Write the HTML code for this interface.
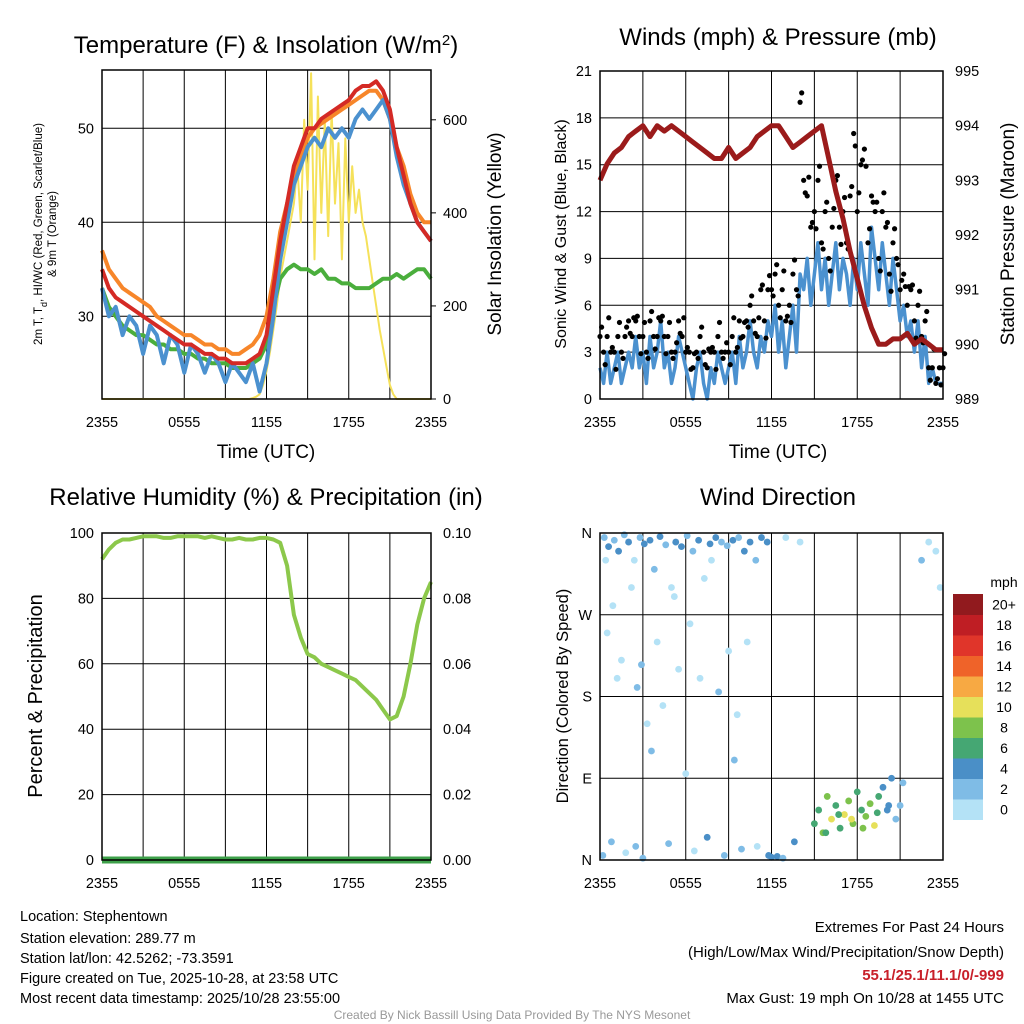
<!DOCTYPE html>
<html><head><meta charset="utf-8"><style>
body{margin:0;background:#fff;}
svg{display:block;font-family:"Liberation Sans",Arial,sans-serif;}
</style></head><body>
<svg id="fig" width="1024" height="1024" viewBox="0 0 1024 1024">
<g id="p1"></g>
<g id="p2"></g>
<g id="p3"></g>
<g id="p4"></g>
<g font-size="14.5">
<text x="20" y="921">Location: Stephentown</text>
<text x="20" y="943">Station elevation: 289.77 m</text>
<text x="20" y="963">Station lat/lon: 42.5262; -73.3591</text>
<text x="20" y="983">Figure created on Tue, 2025-10-28, at 23:58 UTC</text>
<text x="20" y="1003">Most recent data timestamp: 2025/10/28 23:55:00</text>
</g>
<g font-size="15" text-anchor="end">
<text x="1004" y="932">Extremes For Past 24 Hours</text>
<text x="1004" y="957">(High/Low/Max Wind/Precipitation/Snow Depth)</text>
<text x="1004" y="980" fill="#c8202a" font-weight="bold">55.1/25.1/11.1/0/-999</text>
<text x="1004" y="1003">Max Gust: 19 mph On 10/28 at 1455 UTC</text>
</g>
<text x="512" y="1019" font-size="12" fill="#999" text-anchor="middle">Created By Nick Bassill Using Data Provided By The NYS Mesonet</text>
</svg>
<script>
// ---- data ----
const xTickLabels=["2355","0555","1155","1755","2355"];
const tempRed=[35,33,32,31.5,31,30.5,30,29.5,29,28.5,28,27.5,27,27,26.5,26,26,25.5,25.5,25,25,25,25.5,26,28,33,38,42,46,48,50,50,51,51.5,52,52.5,53,54,54.5,54.5,55,54,52,48,45,42,40,39,38];
const tempOrange=[37,35,34,33,32.5,32,31.5,31,30,29.5,29,28.5,28,28,27.5,27,27,26.5,26.5,26,26,26.5,27,28,30,34,39,42,45,47,49,50,50.5,51,51.5,52,52.5,53,53.5,54,54,53,51,48,46,43,41,40,40];
const tempGreen=[33,31,30,29,28.5,28,28,27.5,27,27,26.5,26.5,26,26,25.5,25.5,25,25,25,24.5,24.5,24.5,25,25.5,27,31,34,35,35.5,35,35,34.5,35,34,34,33.5,33.5,33,33,33,33.5,34,34,34.5,34,34.5,35,35,34];
const tempBlue=[33,30,31,28,30,29,26,29,28,25,28,27,24,27,26,24,26,25,23,25,24,23,25,22,25,30,36,40,44,46,48,49,48,50,49,50,49,51,52,51,52,53,51,47,44,42,40,39,38];
const solar=[0,0,0,0,0,0,0,0,0,0,0,0,0,0,0,0,0,0,0,0,0,0,0,0,0,0,0,0,0,0,0,0,0,0,0,0,0,0,0,0,0,0,0,0,2,5,10,30,60,100,150,200,260,300,340,380,420,500,380,600,450,700,300,650,400,600,350,620,420,550,300,560,380,500,400,450,380,350,300,250,200,150,110,70,30,10,0,0,0,0,0,0,0,0,0,0,0];
const tempTicks=[30,40,50];
const solarTicks=[0,200,400,600];
const windBlue=[2,1,3,1,2,3,1,2,3,2,4,2,3,1,4,2,3,5,2,3,1,2,4,3,2,1,0,2,3,1,0,2,1,3,2,1,2,3,1,4,2,3,5,3,2,4,3,5,4,6,3,5,2,4,6,3,8,7,9,6,8,10,7,9,6,8,10,7,9,8,6,9,7,10,8,6,11,9,7,10,8,6,9,7,5,6,4,5,3,5,2,4,1,2,1,1,1];
const windGust=[4,3,4,3,3,4,3,4,5,4,5,4,4,3,5,4,4,5,4,4,3,3,5,4,3,3,2,3,4,3,2,3,3,4,3,3,3,4,3,5,4,5,6,5,4,7,5,7,7,8,6,7,5,6,8,7,19,14,13,11,12,14,10,12,9,11,14,11,12,10,13,17,12,15,16,10,13,12,9,12,11,8,10,9,7,8,6,7,5,6,4,5,2,2,1,2,2];
const pressure=[993,993.3,993.5,993.6,993.8,993.9,994,993.8,994,993.9,994,993.9,993.8,993.7,993.6,993.5,993.4,993.4,993.6,993.4,993.5,993.6,993.8,993.9,994,994,993.8,993.6,993.7,993.8,993.9,994,993.4,992.8,992.3,991.7,991.2,990.7,990.3,990,990,990.1,990.1,990.2,990,990.1,990,989.9,989.9];
const windTicks=[0,3,6,9,12,15,18,21];
const presTicks=[989,990,991,992,993,994,995];
const rh=[92,95,97,98,98,98.5,99,99,99,98.5,98.5,99,99,99,99,98.5,99,98.5,98,98,98.5,98,98,98.5,98.5,98,97,90,75,68,63,62,60,59,58,57,56,55,53,51,49,46,43,44,50,60,72,80,85];
const precip=[0,0,0,0,0,0,0,0,0,0,0,0,0,0,0,0,0,0,0,0,0,0,0,0,0,0,0,0,0,0,0,0,0,0,0,0,0,0,0,0,0,0,0,0,0,0,0,0,0];
const rhTicks=[0,20,40,60,80,100];
const precipTicks=["0.00","0.02","0.04","0.06","0.08","0.10"];
const dirHours=[0.3,0.6,1.0,1.3,1.7,2.0,2.4,2.8,3.1,3.5,3.8,4.2,4.6,5.0,5.3,5.7,6.1,6.5,6.9,7.3,7.7,8.1,8.5,8.9,9.3,9.7,10.1,10.5,10.9,11.3,11.7,0.5,0.9,1.5,2.2,2.6,3.3,4.0,4.4,5.5,6.3,7.0,8.3,9.0,9.6,10.3,0.2,0.8,1.8,2.5,3.0,4.8,6.6,7.5,8.7,9.9,11.0,12.0,12.4,15.0,15.3,15.6,15.9,16.2,16.5,16.8,17.1,17.4,17.7,18.0,18.3,18.6,18.9,19.2,19.5,19.8,20.1,20.4,20.7,21.0,15.8,16.7,17.6,18.4,19.4,20.2,21.2,13.0,14.0,22.5,23.0,23.5,23.8,11.8,12.8,13.6,1.2,3.6,5.2,7.8,9.4,0.4,2.9,6.0];
const dirValues=[355,345,352,340,358,350,330,355,348,352,320,356,347,300,350,345,357,340,352,310,348,355,350,346,352,355,340,350,330,355,350,250,280,220,300,190,150,240,170,210,260,200,185,230,160,240,5,20,8,15,2,18,10,25,5,12,15,3,4,40,55,30,70,45,60,35,50,65,40,75,55,48,62,38,70,80,55,90,45,60,30,50,45,35,52,60,85,355,350,330,350,340,300,5,2,20,200,120,290,330,110,330,215,95];
const dirSpeeds=[3,4,2,5,3,4,1,3,4,5,2,4,3,1,4,5,3,2,4,1,4,5,3,2,4,3,5,4,2,5,4,1,1,0,1,2,1,0,1,1,0,1,2,1,0,1,3,2,1,2,3,2,1,4,3,2,1,4,5,7,6,9,8,10,6,7,11,8,9,6,7,9,8,10,6,5,4,5,3,2,6,7,10,9,6,5,3,1,1,2,1,0,1,4,3,5,1,2,0,1,3,1,2,1];
const speedLabels=["0","2","4","6","8","10","12","14","16","18","20+"];
const speedColors=["#b4e2f6","#7fbce6","#4a8fc7","#45a773","#7dc24c","#e6e05a","#f7a943","#ef6329","#e0352a","#bf1e24","#911a1e"];

const NS="http://www.w3.org/2000/svg";
function mk(parent,tag,attrs,txt){const e=document.createElementNS(NS,tag);for(const k in attrs)e.setAttribute(k,attrs[k]);if(txt!==undefined)e.textContent=txt;parent.appendChild(e);return e;}

function frame(g,x0,y0,w,h){
  for(let i=1;i<8;i++){const l=mk(g,'line',{x1:x0+w*i/8,x2:x0+w*i/8,y1:y0,y2:y0+h,stroke:'#000','stroke-width':1});
    
    }
  xTickLabels.forEach((t,i)=>{const tx=mk(g,'text',{x:x0+w*i/4,y:y0+h+28,'font-size':14.5,'text-anchor':'middle'},t);
    
    });
}
function box(g,x0,y0,w,h){const r=mk(g,'rect',{x:x0,y:y0,width:w,height:h,fill:'none',stroke:'#000','stroke-width':1.5});
  
  }
function line(g,vals,xf,yf,color,width,name){
  const n=vals.length;const d=vals.map((v,i)=>(i?'L':'M')+xf(i*24/(n-1)).toFixed(1)+','+yf(v).toFixed(1)).join('');
  const p=mk(g,'path',{d:d,fill:'none',stroke:color,'stroke-width':width,'stroke-linejoin':'round'});
  
  return p;}
function hgrid(g,x0,w,ys){ys.forEach(y=>{const l=mk(g,'line',{x1:x0,x2:x0+w,y1:y,y2:y,stroke:'#000','stroke-width':1});
  
  });}
function lab(g,x,y,t,anchor,size,name,rot){const a={x:x,y:y,'font-size':size,'text-anchor':anchor};if(rot)a.transform='rotate(-90 '+x+' '+y+')';
  const e=mk(g,'text',a,t);
  return e;}

// ---- Panel 1 ----
(function(){
 const g=document.getElementById('p1');const x0=102,y0=70,w=329,h=329;
 const X=t=>x0+t/24*w; const Y=v=>y0+h-(v-21.2)/(56.2-21.2)*h; const YS=v=>y0+h-v/707*h;
 frame(g,x0,y0,w,h); hgrid(g,x0,w,tempTicks.map(Y));
 tempTicks.forEach(v=>lab(g,x0-8,Y(v)+5,String(v),'end',14.5,'temp-tick-label'));
 solarTicks.forEach(v=>{lab(g,x0+w+12,YS(v)+5,String(v),'start',14.5,'solar-tick-label');mk(g,'line',{x1:x0+w,x2:x0+w+5,y1:YS(v),y2:YS(v),stroke:'#000'});});
 line(g,solar,X,YS,'#f5e15a',2,'solar-insolation-line');
 line(g,tempOrange,X,Y,'#f7862a',4,'temp-9m-line');
 line(g,tempGreen,X,Y,'#4aae3c',4,'dewpoint-line');
 line(g,tempBlue,X,Y,'#4b91cf',4,'windchill-line');
 line(g,tempRed,X,Y,'#d42a25',4,'temp-2m-line');
 box(g,x0,y0,w,h);
 const t=lab(g,266,53,'Temperature (F) & Insolation (W/m','middle',24,'temperature-title');mk(t,'tspan',{'baseline-shift':'super','font-size':15},'2');mk(t,'tspan',{},')');
 lab(g,266,458,'Time (UTC)','middle',19,'x-axis-title');
 const yl=lab(g,42,234,'2m T, T','middle',11.5,'temp-y-axis-title',true);mk(yl,'tspan',{'baseline-shift':'sub','font-size':9},'d');mk(yl,'tspan',{},', HI/WC (Red, Green, Scarlet/Blue)');
 lab(g,56,234,'& 9m T (Orange)','middle',11.5,'temp-y-axis-title-2',true);
 lab(g,501,234,'Solar Insolation (Yellow)','middle',19,'solar-y-axis-title',true);
})();

// ---- Panel 2 ----
(function(){
 const g=document.getElementById('p2');const x0=600,y0=71,w=343,h=328;
 const X=t=>x0+t/24*w; const Y=v=>y0+h-v/21*h; const YP=v=>y0+h-(v-989)/6*h;
 frame(g,x0,y0,w,h); hgrid(g,x0,w,windTicks.slice(1,-1).map(Y));
 windTicks.forEach(v=>lab(g,x0-8,Y(v)+5,String(v),'end',14.5,'wind-tick-label'));
 presTicks.forEach(v=>lab(g,x0+w+12,YP(v)+5,String(v),'start',14.5,'pressure-tick-label'));
 line(g,windBlue,X,Y,'#4b91cf',3.5,'sonic-wind-line');
 const n=windGust.length;
 const offs=[0.6,-0.8,1.2,0.3,-1.1,0.9,-0.4];
 windGust.forEach((v,i)=>{const c=mk(g,'circle',{cx:X(i*24/(n-1)),cy:Y(v),r:2.6,fill:'#000'});
   
   
   const c2=mk(g,'circle',{cx:X((i+0.45)*24/(n-1)),cy:Y(Math.max(0,v+offs[i%7])),r:2.6,fill:'#000'});
   
   });
 line(g,pressure,X,YP,'#9b1b1b',5,'pressure-line');
 box(g,x0,y0,w,h);
 lab(g,778,45,'Winds (mph) & Pressure (mb)','middle',24,'winds-title');
 lab(g,778,458,'Time (UTC)','middle',19,'x-axis-title');
 lab(g,566,234,'Sonic Wind & Gust (Blue, Black)','middle',16,'wind-y-axis-title',true);
 lab(g,1014,234,'Station Pressure (Maroon)','middle',19,'pressure-y-axis-title',true);
})();

// ---- Panel 3 ----
(function(){
 const g=document.getElementById('p3');const x0=102,y0=533,w=329,h=327;
 const X=t=>x0+t/24*w; const Y=v=>y0+h-v/100*h; const YP=v=>y0+h-v/0.1*h;
 frame(g,x0,y0,w,h); hgrid(g,x0,w,rhTicks.slice(1,-1).map(Y));
 rhTicks.forEach(v=>lab(g,x0-8,Y(v)+5,String(v),'end',14.5,'rh-tick-label'));
 precipTicks.forEach(v=>lab(g,x0+w+12,YP(parseFloat(v))+5,v,'start',14.5,'precip-tick-label'));
 line(g,precip,X,YP,'#3ea04a',7,'precip-line');
 line(g,rh,X,Y,'#8cc84b',4,'rh-line');
 box(g,x0,y0,w,h);
 lab(g,266,505,'Relative Humidity (%) & Precipitation (in)','middle',24,'humidity-title');
 lab(g,42,696,'Percent & Precipitation','middle',20,'rh-y-axis-title',true);
})();

// ---- Panel 4 ----
(function(){
 const g=document.getElementById('p4');const x0=600,y0=533,w=343,h=327;
 const X=t=>x0+t/24*w; const Y=v=>y0+h-v/360*h;
 frame(g,x0,y0,w,h); hgrid(g,x0,w,[90,180,270].map(Y));
 ['N','E','S','W','N'].forEach((t,i)=>lab(g,x0-8,Y(i*90)+5,t,'end',14.5,'direction-tick-label'));
 dirHours.forEach((hh,i)=>{const b=Math.min(10,Math.floor(dirSpeeds[i]/2));
   const c=mk(g,'circle',{cx:X(hh),cy:Y(dirValues[i]),r:3.4,fill:speedColors[b]});
   
   });
 box(g,x0,y0,w,h);
 lab(g,778,505,'Wind Direction','middle',24,'wind-direction-title');
 lab(g,568,696,'Direction (Colored By Speed)','middle',16.5,'direction-y-axis-title',true);
 const cb=mk(g,'g',{});
 const bh=20.5,cy0=594;
 speedColors.forEach((c,i)=>{const yy=cy0+(10-i)*bh;
   const r=mk(cb,'rect',{x:953,y:yy,width:30,height:bh+0.5,fill:c});
   
   
   lab(cb,1004,yy+bh/2+5,speedLabels[i],'middle',14,'colorbar-label');});
 lab(cb,1004,587,'mph','middle',14,'colorbar-title');
})();
</script>
</body></html>
